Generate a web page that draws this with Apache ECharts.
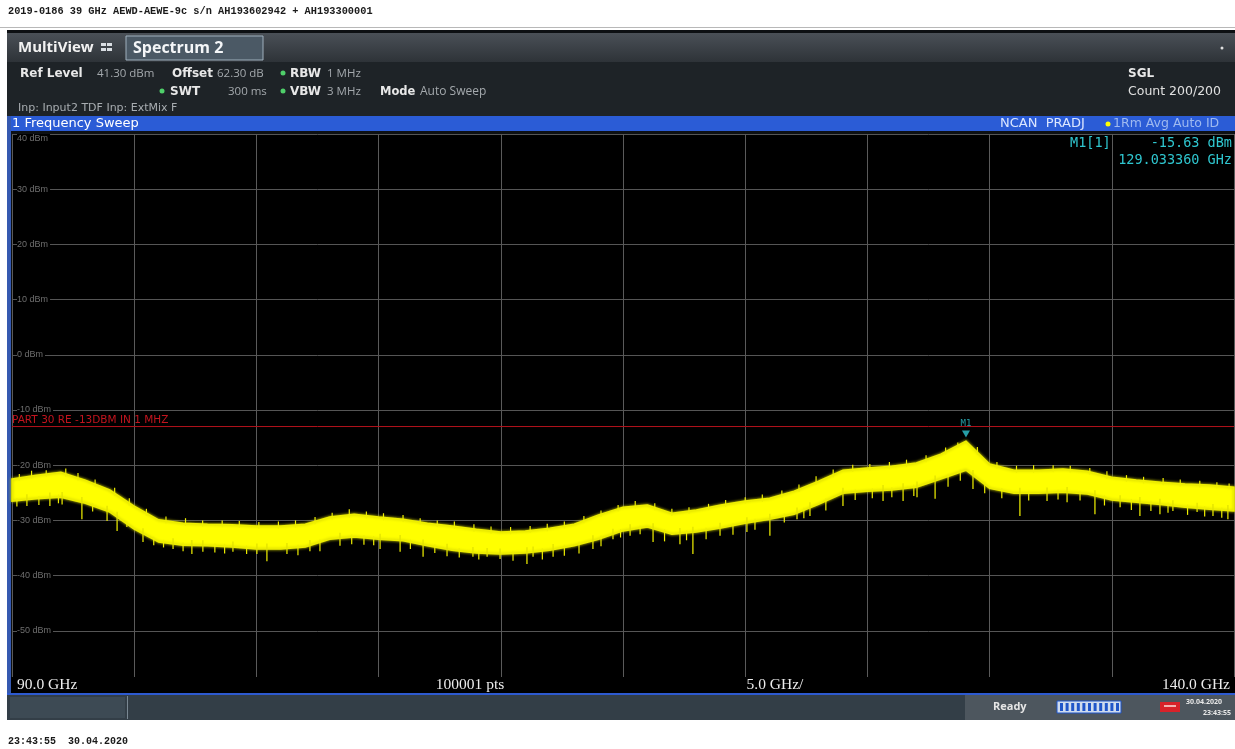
<!DOCTYPE html>
<html>
<head>
<meta charset="utf-8">
<title>Frequency Sweep 90 - 140 GHz</title>
<script src="https://cdn.jsdelivr.net/npm/echarts@6/dist/echarts.min.js"></script>
<style>
  html, body { margin: 0; padding: 0; background: #fff; }
  #chart { width: 1235px; height: 749px; }
</style>
</head>
<body>
<div id="chart"></div>
<script>
// Sweep settings
const START_GHZ = 90.0;
const STOP_GHZ = 140.0;
const SPAN_DIV_GHZ = 5.0;
const SWEEP_POINTS = 100001;
const REF_LEVEL_DBM = 40;
const BOTTOM_DBM = -60;
const DIV_DB = 10;
const LIMIT_DBM = -13;
const LIMIT_NAME = 'PART 30 RE -13DBM IN 1 MHZ';

// Y tick labels
const Y_TICKS = [40, 30, 20, 10, 0, -10, -20, -30, -40, -50];

// Averaged trace envelope (max / min of the noise band), dBm
const FREQ_GHZ = [90, 91, 92, 93, 94, 95, 96, 97, 98, 99,
  100, 101, 102, 103, 104, 105, 106, 107, 108, 109,
  110, 111, 112, 113, 114, 115, 116, 117, 118, 119,
  120, 121, 122, 123, 124, 125, 126, 127, 128, 129.03336,
  130, 131, 132, 133, 134, 135, 136, 137, 138, 139, 140];
const UPPER_DBM = [-22.5, -21.8, -21.3, -22.7, -24.5, -27.4, -29.9, -30.5, -30.7, -30.8,
  -31.0, -31.0, -30.7, -29.4, -28.9, -29.4, -29.8, -30.5, -31.0, -31.6,
  -32.1, -31.9, -31.4, -30.7, -29.0, -27.6, -27.2, -28.7, -28.1, -27.2,
  -26.5, -26.0, -24.7, -22.9, -20.9, -20.5, -20.2, -19.6, -18.0, -15.63,
  -19.8, -20.9, -20.9, -20.7, -21.1, -22.2, -22.7, -23.1, -23.4, -23.6, -24.0];
const LOWER_DBM = [-26.5, -26.1, -25.8, -26.9, -28.5, -31.6, -33.9, -34.5, -34.6, -34.8,
  -35.2, -35.2, -34.8, -33.4, -33.0, -33.4, -33.7, -34.6, -35.4, -35.9,
  -36.1, -35.9, -35.4, -34.6, -33.4, -31.9, -31.2, -32.5, -32.1, -31.4,
  -30.5, -29.8, -28.9, -27.1, -25.1, -24.7, -24.5, -24.0, -22.5, -20.9,
  -24.2, -25.1, -25.1, -24.9, -25.2, -26.3, -26.7, -27.1, -27.6, -28.0, -28.3];

// Long downward noise spikes below the band: [GHz, dBm]
const SPIKES = [
  [90.61, -27.4], [91.55, -27.4], [92.05, -27.1], [92.86, -29.8], [93.89, -30.1],
  [94.30, -31.9], [95.36, -33.9], [96.59, -35.2], [97.36, -36.1], [97.81, -35.7],
  [99.04, -35.7], [100.02, -36.1], [100.43, -37.4], [101.25, -36.1], [102.19, -35.6],
  [103.42, -34.6], [105.06, -35.2], [105.88, -35.7], [106.82, -36.6], [107.80, -36.5],
  [108.86, -36.6], [109.44, -36.6], [109.97, -37.0], [111.07, -37.9], [111.32, -36.6],
  [112.14, -36.6], [113.77, -35.2], [114.59, -33.4], [115.29, -32.8], [116.23, -33.9],
  [117.33, -34.3], [117.86, -36.1], [118.97, -32.8], [120.07, -32.1], [121.01, -32.8],
  [122.12, -29.8], [122.65, -29.2], [124.00, -27.4], [125.64, -26.5], [126.46, -26.5],
  [127.03, -25.8], [127.77, -26.1], [129.32, -24.3], [131.24, -29.2], [132.35, -26.5],
  [133.17, -26.7], [134.31, -28.9], [135.34, -27.6], [136.15, -29.2], [136.97, -28.9],
  [137.50, -28.3], [138.49, -28.5], [139.14, -29.2], [139.75, -29.8]
];

// Short ripple on the lower edge: [GHz, dBm]
const LOW_RIPPLE = [
  [90.2, -27.5], [91.1, -27.2], [91.9, -26.9], [93.3, -28.4], [94.7, -31.2], [95.8, -34.5],
  [96.2, -34.9], [97.0, -35.6], [98.3, -35.8], [98.7, -36.0], [99.6, -36.1], [101.7, -36.3],
  [102.6, -35.6], [103.9, -34.3], [104.4, -34.4], [104.8, -34.5], [106.3, -35.2], [107.3, -35.9],
  [108.3, -36.7], [109.1, -37.1], [110.5, -37.3], [111.7, -37.1], [112.6, -36.4], [113.2, -36.0],
  [114.1, -34.7], [114.9, -33.1], [115.7, -32.5], [116.7, -33.8], [117.6, -33.6], [118.4, -33.4],
  [119.5, -32.6], [120.4, -31.7], [121.6, -30.4], [122.4, -29.6], [123.3, -28.2], [124.5, -26.3],
  [125.2, -26.0], [126.0, -25.8], [126.9, -25.6], [128.3, -23.9], [128.8, -22.8], [129.8, -25.1],
  [130.5, -26.0], [131.6, -26.4], [132.8, -26.2], [133.7, -26.4], [134.7, -27.3], [135.8, -28.1],
  [136.6, -28.3], [137.3, -28.6], [138.1, -29.0], [138.8, -29.3], [139.5, -29.5]
];

// Short ripple on the upper edge: [GHz, dBm]
const HIGH_RIPPLE = [
  [90.3, -21.6], [90.8, -21.0], [91.4, -20.9], [92.2, -20.6], [92.7, -21.4], [93.4, -22.6],
  [94.2, -24.1], [94.8, -26.0], [95.5, -27.9], [96.3, -29.3], [97.1, -29.6], [97.8, -30.0],
  [98.6, -30.0], [99.3, -30.1], [100.1, -30.3], [100.9, -30.2], [101.6, -30.0], [102.4, -29.4],
  [103.1, -28.6], [103.8, -28.0], [104.5, -28.4], [105.2, -28.7], [106.0, -29.0], [106.7, -29.6],
  [107.4, -30.0], [108.1, -30.2], [108.9, -30.7], [109.6, -31.1], [110.4, -31.2], [111.2, -31.0],
  [111.9, -30.6], [112.6, -30.2], [113.4, -29.2], [114.1, -28.2], [114.8, -27.2], [115.5, -26.5],
  [116.3, -26.9], [117.0, -27.9], [117.7, -27.6], [118.5, -27.0], [119.2, -26.3], [120.0, -25.8],
  [120.7, -25.3], [121.5, -24.6], [122.2, -23.5], [122.9, -22.0], [123.6, -20.8], [124.4, -19.9],
  [125.1, -19.8], [125.9, -19.4], [126.6, -19.0], [127.4, -18.2], [128.2, -16.8], [128.7, -15.9],
  [129.5, -16.7], [130.3, -19.4], [131.1, -20.1], [131.8, -20.0], [132.6, -20.0], [133.3, -20.1],
  [134.1, -20.5], [134.8, -21.1], [135.6, -21.8], [136.3, -22.1], [137.1, -22.3], [137.8, -22.6],
  [138.6, -22.8], [139.3, -23.1], [139.8, -23.3]
];

// Marker M1
const MARKER_NAME = 'M1';
const MARKER_FREQ_GHZ = 129.03336;
const MARKER_DBM = -15.63;

// Header / status texts
const TITLE_TEXT = '2019-0186 39 GHz AEWD-AEWE-9c s/n AH193602942 + AH193300001';
const FOOTER_TEXT = '23:43:55  30.04.2020';
const STATUS_DATE = '30.04.2020';
const STATUS_TIME = '23:43:55';

// ---------------------------------------------------------------
const chart = echarts.init(document.getElementById('chart'), null, { renderer: 'canvas' });

const UI_FONT = '"Open Sans", "Liberation Sans", sans-serif';
const WIDE_FONT = '"DejaVu Sans", "Open Sans", sans-serif';
const AX_FONT = '"Liberation Serif", serif';
const MONO_FONT = '"Liberation Mono", "DejaVu Sans Mono", monospace';
const READOUT_FONT = '"DejaVu Sans Mono", monospace';
const CYAN = '#2fc6cf';
const YELLOW = '#ffff00';

function interp(arr, f) {
  for (let i = 1; i < FREQ_GHZ.length; i++) {
    if (f <= FREQ_GHZ[i]) {
      const t = (f - FREQ_GHZ[i - 1]) / (FREQ_GHZ[i] - FREQ_GHZ[i - 1]);
      return arr[i - 1] + t * (arr[i] - arr[i - 1]);
    }
  }
  return arr[arr.length - 1];
}

function txt(x, y, text, opts, z) {
  return {
    type: 'text', x: x, y: y, silent: true, z: z || 50,
    style: Object.assign({ text: text, fill: '#e8e8e8', font: '12px ' + UI_FONT, textVerticalAlign: 'middle' }, opts || {})
  };
}
function rect(x, y, w, h, fill, z, style) {
  return { type: 'rect', silent: true, z: z || 40, shape: { x: x, y: y, width: w, height: h }, style: style || { fill: fill } };
}
function dot(cx, cy, r, fill, z) {
  return { type: 'circle', silent: true, z: z || 50, shape: { cx: cx, cy: cy, r: r }, style: { fill: fill } };
}

const graphics = [];
// page header / footer
graphics.push(txt(8, 11, TITLE_TEXT, { fill: '#1a1a1a', font: 'bold 10.3px ' + MONO_FONT }));
graphics.push(rect(0, 27, 1235, 1, '#b8b8b8'));
graphics.push(txt(8, 741, FOOTER_TEXT, { fill: '#1a1a1a', font: 'bold 10px ' + MONO_FONT }));

// instrument frame
graphics.push(rect(7, 30, 1228, 690, '#0d1013', 1));
// title bar
graphics.push(rect(7, 33, 1228, 29, new echarts.graphic.LinearGradient(0, 0, 0, 1, [
  { offset: 0, color: '#4a5057' }, { offset: 1, color: '#2e3338' }]), 2));
graphics.push(txt(18, 48, 'MultiView', { font: 'bold 15px ' + UI_FONT, fill: '#f2f2f2' }));
// multiview icon
[[101, 43], [107, 43], [101, 48], [107, 48]].forEach(p => graphics.push(rect(p[0], p[1], 5, 3, '#d8dde2', 50)));
// active tab
graphics.push(rect(126, 36, 137, 24, null, 3, { fill: '#4b5965', stroke: '#9fb0bd', lineWidth: 1 }));
graphics.push(txt(133, 48, 'Spectrum 2', { font: 'bold 16px ' + UI_FONT, fill: '#f4f6f8' }));
graphics.push(dot(1222, 48, 1.5, '#e0e0e0'));

// setting panel
graphics.push(rect(7, 62, 1228, 54, '#1e2327', 2));
const B = 'bold 12px ' + WIDE_FONT;
const N = '11.5px ' + UI_FONT;
const VAL = '#a4a9ad';
graphics.push(txt(20, 74, 'Ref Level', { font: B }));
graphics.push(txt(97, 74, '41.30 dBm', { font: N, fill: VAL }));
graphics.push(txt(172, 74, 'Offset', { font: B }));
graphics.push(txt(217, 74, '62.30 dB', { font: N, fill: VAL }));
graphics.push(dot(283, 73, 2.5, '#4fcf6a'));
graphics.push(txt(290, 74, 'RBW', { font: B }));
graphics.push(txt(327, 74, '1 MHz', { font: N, fill: VAL }));
graphics.push(dot(162, 91, 2.5, '#4fcf6a'));
graphics.push(txt(170, 92, 'SWT', { font: B }));
graphics.push(txt(228, 92, '300 ms', { font: N, fill: VAL }));
graphics.push(dot(283, 91, 2.5, '#4fcf6a'));
graphics.push(txt(290, 92, 'VBW', { font: B }));
graphics.push(txt(327, 92, '3 MHz', { font: N, fill: VAL }));
graphics.push(txt(380, 92, 'Mode', { font: 'bold 11.5px ' + WIDE_FONT }));
graphics.push(txt(420, 92, 'Auto Sweep', { font: '12px ' + UI_FONT, fill: VAL }));
graphics.push(txt(18, 108, 'Inp: Input2 TDF Inp: ExtMix F', { font: '11px ' + WIDE_FONT, fill: '#a8adb1' }));
graphics.push(txt(1128, 74, 'SGL', { font: B }));
graphics.push(txt(1128, 92, 'Count 200/200', { font: '12.5px ' + WIDE_FONT, fill: '#e0e0e0' }));

// window title bar
graphics.push(rect(7, 116, 1228, 15, '#2b5cd6', 3));
graphics.push(txt(12, 124, '1 Frequency Sweep', { font: '13px ' + WIDE_FONT, fill: '#ffffff' }));
graphics.push(txt(1000, 124, 'NCAN  PRADJ', { font: '13px ' + WIDE_FONT, fill: '#dbe6ff' }));
graphics.push(dot(1108, 124, 2.5, YELLOW));
graphics.push(txt(1113, 124, '1Rm Avg Auto ID', { font: '12.5px ' + WIDE_FONT, fill: '#9fbaf0' }));
// left frame edge
graphics.push(rect(7, 116, 4, 578, '#3559b0', 3));

// marker readout
const RD = { font: '13.5px ' + READOUT_FONT, fill: CYAN };
graphics.push(txt(1070, 143, MARKER_NAME + '[1]', RD));
graphics.push(txt(1232, 143, MARKER_DBM.toFixed(2) + ' dBm', Object.assign({ textAlign: 'right' }, RD)));
graphics.push(txt(1232, 160, MARKER_FREQ_GHZ.toFixed(6) + ' GHz', Object.assign({ textAlign: 'right' }, RD)));

// frequency annotation strip
graphics.push(rect(11, 677, 1224, 16, '#000', 60));
const AXT = { font: '15.5px ' + AX_FONT, fill: '#ececec' };
graphics.push(txt(17, 685, START_GHZ.toFixed(1) + ' GHz', AXT, 61));
graphics.push(txt(470, 685, SWEEP_POINTS + ' pts', Object.assign({ textAlign: 'center' }, AXT), 61));
graphics.push(txt(775, 685, SPAN_DIV_GHZ.toFixed(1) + ' GHz/', Object.assign({ textAlign: 'center' }, AXT), 61));
graphics.push(txt(1230, 685, STOP_GHZ.toFixed(1) + ' GHz', Object.assign({ textAlign: 'right' }, AXT), 61));
graphics.push(rect(7, 693, 1228, 2, '#2d5ad0', 62));

// status bar
graphics.push(rect(7, 695, 1228, 25, '#333e47', 62));
graphics.push(rect(10, 697, 115, 21, '#3d4a54', 63));
graphics.push(rect(127, 696, 1, 23, '#7a8893', 63));
graphics.push(rect(965, 695, 270, 25, '#4d565e', 63));
graphics.push(txt(993, 707, 'Ready', { font: 'bold 11px ' + UI_FONT, fill: '#e6e6e6' }, 64));
graphics.push(rect(1057, 701, 64, 12, null, 64, { fill: '#cfdcee', stroke: '#1f55c9', lineWidth: 1 }));
for (let i = 0; i < 11; i++) graphics.push(rect(1060 + i * 5.6, 703, 3, 8, '#1f55c9', 65));
graphics.push(rect(1160, 702, 20, 10, '#d8222a', 64));
graphics.push(rect(1164, 705, 12, 2, '#f3b0b0', 65));
graphics.push(txt(1186, 702, STATUS_DATE, { font: 'bold 7px ' + UI_FONT, fill: '#e8e8e8' }, 64));
graphics.push(txt(1231, 713, STATUS_TIME, { font: 'bold 7px ' + UI_FONT, fill: '#e8e8e8', textAlign: 'right' }, 64));

function edgeRipple(envelope, inset, color, width) {
  return (params, api) => {
    const f = api.value(0);
    const a = api.coord([f, interp(envelope, f) + inset]);
    const b = api.coord([f, api.value(1)]);
    return {
      type: 'line', shape: { x1: a[0], y1: a[1], x2: b[0], y2: b[1] },
      style: { stroke: color, lineWidth: width }
    };
  };
}

const option = {
  backgroundColor: '#ffffff',
  animation: false,
  grid: {
    left: 12, top: 134, width: 1222, height: 552,
    show: true, backgroundColor: '#000000', borderWidth: 0, z: 5
  },
  xAxis: {
    type: 'value', min: START_GHZ, max: STOP_GHZ, interval: SPAN_DIV_GHZ,
    axisLine: { show: false }, axisTick: { show: false }, axisLabel: { show: false },
    splitLine: { show: true, lineStyle: { color: '#5a5a5a', width: 1 } },
    z: 6
  },
  yAxis: {
    type: 'value', min: BOTTOM_DBM, max: REF_LEVEL_DBM, interval: DIV_DB,
    axisLine: { show: false }, axisTick: { show: false },
    axisLabel: {
      inside: true, margin: 5, color: '#6e6e6e', fontSize: 9, fontFamily: 'Liberation Sans',
      backgroundColor: '#000', padding: [0, 2, 0, 0],
      showMinLabel: false,
      verticalAlignMaxLabel: 'top',
      formatter: v => (Y_TICKS.indexOf(v) >= 0 ? v + ' dBm' : '')
    },
    splitLine: { show: true, lineStyle: { color: '#555555', width: 1 } },
    z: 6
  },
  graphic: graphics,
  series: [
    {
      // limit line
      type: 'line', z: 7, silent: true, symbol: 'none',
      data: [[START_GHZ, LIMIT_DBM], [STOP_GHZ, LIMIT_DBM]],
      lineStyle: { color: '#b4121b', width: 1 },
      markPoint: {
        symbol: 'rect', symbolSize: 0,
        data: [{ coord: [START_GHZ, LIMIT_DBM] }],
        label: {
          show: true, formatter: LIMIT_NAME, position: 'right', distance: 0, offset: [0, -6],
          color: '#c3141e', fontSize: 10.5, fontFamily: 'DejaVu Sans'
        }
      }
    },
    {
      // noise band of the averaged trace
      type: 'custom', z: 8, silent: true,
      data: [0],
      renderItem: (params, api) => {
        const pts = [];
        for (let i = 0; i < FREQ_GHZ.length; i++) pts.push(api.coord([FREQ_GHZ[i], UPPER_DBM[i]]));
        for (let i = FREQ_GHZ.length - 1; i >= 0; i--) pts.push(api.coord([FREQ_GHZ[i], LOWER_DBM[i]]));
        return {
          type: 'polygon', shape: { points: pts },
          style: { fill: YELLOW, stroke: '#eeee00', lineWidth: 1.5, shadowBlur: 3, shadowColor: '#c8c800' }
        };
      }
    },
    {
      type: 'custom', z: 9, silent: true, data: LOW_RIPPLE,
      renderItem: edgeRipple(LOWER_DBM, 0.5, '#f0f000', 1.2)
    },
    {
      type: 'custom', z: 9, silent: true, data: HIGH_RIPPLE,
      renderItem: edgeRipple(UPPER_DBM, -0.5, '#f0f000', 1.2)
    },
    {
      // long downward spikes
      type: 'custom', z: 9, silent: true, data: SPIKES,
      renderItem: edgeRipple(LOWER_DBM, 1, '#e2e200', 1.3)
    },
    {
      // marker M1
      type: 'scatter', z: 10, silent: true,
      data: [[MARKER_FREQ_GHZ, MARKER_DBM]],
      symbol: 'triangle', symbolRotate: 180, symbolSize: [8, 7], symbolOffset: [0, -7],
      itemStyle: { color: CYAN },
      label: {
        show: true, formatter: MARKER_NAME, position: 'top', distance: 2,
        color: CYAN, fontSize: 9, fontFamily: 'DejaVu Sans Mono'
      }
    }
  ]
};

chart.setOption(option);
</script>
</body>
</html>
